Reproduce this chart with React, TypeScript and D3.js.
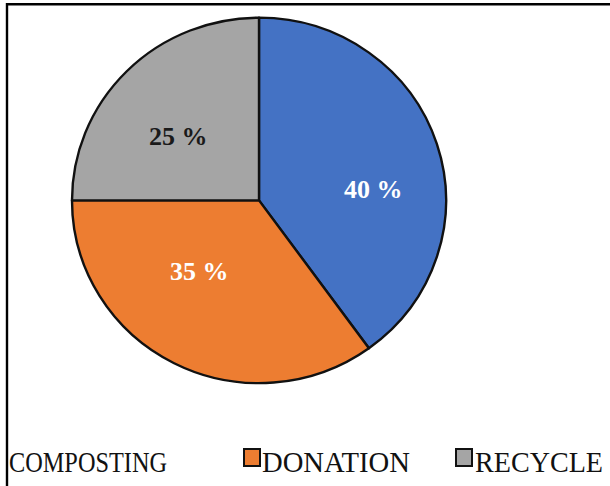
import React from "react";
import * as d3 from "d3";

// Share of food waste handled by each route
const categories = ["COMPOSTING", "DONATION", "RECYCLE"];
const shares = [40, 35, 25];
const colors = ["#4472C4", "#ED7D31", "#A5A5A5"];
const labelColors = ["#ffffff", "#ffffff", "#1a1a1a"];

const W = 610;
const H = 486;

export default function App() {
  const cx = 259;
  const cy = 200.4;
  const r = 187;
  const squash = 0.977;

  const pie = d3
    .pie<number>()
    .sort(null)
    .value((d) => d)
    .startAngle(0)
    .endAngle(2 * Math.PI);
  const arcs = pie(shares);
  const arcGen = d3.arc<d3.PieArcDatum<number>>().innerRadius(0).outerRadius(r);

  // label placement: angular shift (deg) from slice middle and radial distance
  const labelShift = [12, 12.5, -6];
  const labelDist = [115, 94, 104];

  // legend layout: x of marker, x of text, text width
  const legendItems = [
    { marker: false, mx: 0, tx: 9, tw: 158 },
    { marker: true, mx: 243, tx: 262, tw: 148 },
    { marker: true, mx: 455, tx: 475, tw: 128 },
  ];

  return (
    <svg
      width={W}
      height={H}
      style={{ position: "absolute", left: 0, top: 0, background: "#fff" }}
    >
      <rect width={W} height={H} fill="#fff" />
      <path d={`M7,${H} V4.3 H${W}`} fill="none" stroke="#000" strokeWidth={2.4} />
      <g transform={`translate(${cx},${cy}) scale(1,${squash})`}>
        {arcs.map((a, i) => (
          <path
            key={categories[i]}
            d={arcGen(a) || ""}
            fill={colors[i]}
            stroke="#111"
            strokeWidth={2.4}
            strokeLinejoin="round"
          />
        ))}
      </g>
      {arcs.map((a, i) => {
        const mid = (a.startAngle + a.endAngle) / 2 + (labelShift[i] * Math.PI) / 180;
        const x = cx + labelDist[i] * Math.sin(mid);
        const y = cy - labelDist[i] * Math.cos(mid) * squash;
        return (
          <text
            key={"l" + i}
            x={x}
            y={y + 9}
            textAnchor="middle"
            fontFamily="'Liberation Serif', 'Times New Roman', serif"
            fontWeight="bold"
            fontSize={26}
            fill={labelColors[i]}
          >
            {`${shares[i]} %`}
          </text>
        );
      })}
      {categories.map((c, i) => {
        const it = legendItems[i];
        return (
          <g key={"lg" + c}>
            {it.marker && (
              <rect
                x={it.mx + 1}
                y={449}
                width={16}
                height={17}
                fill={colors[i]}
                stroke="#111"
                strokeWidth={2}
              />
            )}
            <text
              x={it.tx}
              y={471.5}
              fontFamily="'Liberation Serif', 'Times New Roman', serif"
              fontSize={29}
              fill="#111"
              textLength={it.tw}
              lengthAdjust="spacingAndGlyphs"
            >
              {c}
            </text>
          </g>
        );
      })}
    </svg>
  );
}
